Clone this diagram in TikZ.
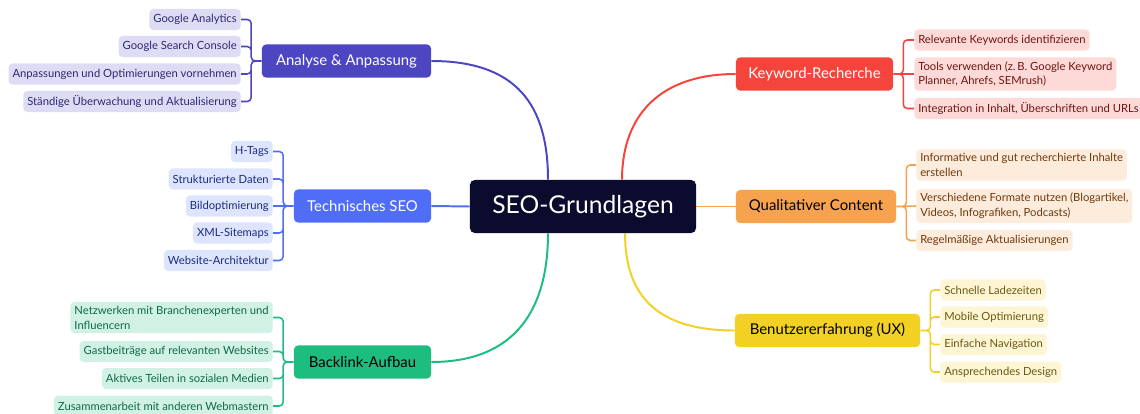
\documentclass[tikz,border=0pt]{standalone}
\usepackage{fontspec}
\setmainfont{Lato}
\usetikzlibrary{backgrounds}
\definecolor{rootc}{HTML}{0B0B2D}
\definecolor{anac}{HTML}{4C46C2}
\definecolor{analt}{HTML}{DEDCF4}
\definecolor{anadk}{HTML}{2C2972}
\definecolor{tecc}{HTML}{4F6DF6}
\definecolor{teclt}{HTML}{DDE4FD}
\definecolor{tecdk}{HTML}{1C2C80}
\definecolor{bacc}{HTML}{1CBD7E}
\definecolor{baclt}{HTML}{D0F1E3}
\definecolor{bacdk}{HTML}{0E6A48}
\definecolor{keyc}{HTML}{F5443B}
\definecolor{keylt}{HTML}{FDDAD8}
\definecolor{keydk}{HTML}{6E1511}
\definecolor{quac}{HTML}{F7A24E}
\definecolor{qualt}{HTML}{FDEBDB}
\definecolor{quadk}{HTML}{6E3A0F}
\definecolor{uxc}{HTML}{F2D024}
\definecolor{uxlt}{HTML}{FDF5D3}
\definecolor{uxdk}{HTML}{6A5A12}

\begin{document}
\begin{tikzpicture}[x=0.025cm, y=-0.025cm,
  root/.style={fill=rootc, text=white, rounded corners=0.12cm, font=\fontsize{17.5}{20}\selectfont, minimum width=5.65cm, minimum height=1.325cm},
  topic/.style={rounded corners=0.1cm, font=\fontsize{10.6}{12}\selectfont, minimum height=0.825cm, inner xsep=0.2cm},
  leaf/.style={rounded corners=0.1cm, font=\fontsize{8}{10.6}\selectfont, minimum height=0.525cm, inner xsep=0.1cm, inner ysep=0.1cm, align=left},
  link/.style={line width=1.4pt},
  brace/.style={line width=1.1pt, rounded corners=0.1cm}]
  \useasboundingbox (0,0) rectangle (1140,414);

  \node[root] (seo) at (583,206.5) {SEO-Grundlagen};

  \node[topic, fill=anac, text=white, minimum width=4.225cm] (ana) at (346.5,61) {Analyse \& Anpassung};
  \node[topic, fill=tecc, text=white, minimum width=3.425cm] (tec) at (362.5,206) {Technisches SEO};
  \node[topic, fill=bacc, minimum width=3.425cm] (bac) at (362.5,362) {Backlink-Aufbau};
  \node[topic, fill=keyc, text=white, minimum width=3.925cm] (key) at (814.5,74) {Keyword-Recherche};
  \node[topic, fill=quac, minimum width=4cm] (qua) at (816,206.5) {Qualitativer Content};
  \node[topic, fill=uxc, minimum width=4.625cm] (ux) at (827.5,330.5) {Benutzererfahrung (UX)};

  \node[leaf, anchor=east, fill=analt, text=anadk] (ana1) at (241,19.5) {Google Analytics};
  \node[leaf, anchor=east, fill=analt, text=anadk] (ana2) at (241,46.5) {Google Search Console};
  \node[leaf, anchor=east, fill=analt, text=anadk] (ana3) at (241,74) {Anpassungen und Optimierungen vornehmen};
  \node[leaf, anchor=east, fill=analt, text=anadk] (ana4) at (241,101.5) {Ständige Überwachung und Aktualisierung};

  \node[leaf, anchor=east, fill=teclt, text=tecdk] (tec1) at (273,151.5) {H-Tags};
  \node[leaf, anchor=east, fill=teclt, text=tecdk] (tec2) at (273,179) {Strukturierte Daten};
  \node[leaf, anchor=east, fill=teclt, text=tecdk] (tec3) at (273,206) {Bildoptimierung};
  \node[leaf, anchor=east, fill=teclt, text=tecdk] (tec4) at (273,233) {XML-Sitemaps};
  \node[leaf, anchor=east, fill=teclt, text=tecdk] (tec5) at (273,260.5) {Website-Architektur};

  \node[leaf, anchor=east, fill=baclt, text=bacdk] (bac1) at (273,317.5) {Netzwerken mit Branchenexperten und\\Influencern};
  \node[leaf, anchor=east, fill=baclt, text=bacdk] (bac2) at (273,351.5) {Gastbeiträge auf relevanten Websites};
  \node[leaf, anchor=east, fill=baclt, text=bacdk] (bac3) at (273,378.5) {Aktives Teilen in sozialen Medien};
  \node[leaf, anchor=east, fill=baclt, text=bacdk] (bac4) at (273,406) {Zusammenarbeit mit anderen Webmastern};

  \node[leaf, anchor=west, fill=keylt, text=keydk] (key1) at (914,40) {Relevante Keywords identifizieren};
  \node[leaf, anchor=west, fill=keylt, text=keydk] (key2) at (914,74) {Tools verwenden (z.\,B. Google Keyword\\Planner, Ahrefs, SEMrush)};
  \node[leaf, anchor=west, fill=keylt, text=keydk] (key3) at (914,108.5) {Integration in Inhalt, Überschriften und URLs};

  \node[leaf, anchor=west, fill=qualt, text=quadk] (qua1) at (916,165) {Informative und gut recherchierte Inhalte\\erstellen};
  \node[leaf, anchor=west, fill=qualt, text=quadk] (qua2) at (916,206) {Verschiedene Formate nutzen (Blogartikel,\\Videos, Infografiken, Podcasts)};
  \node[leaf, anchor=west, fill=qualt, text=quadk] (qua3) at (916,240.5) {Regelmäßige Aktualisierungen};

  \node[leaf, anchor=west, fill=uxlt, text=uxdk] (ux1) at (940,290) {Schnelle Ladezeiten};
  \node[leaf, anchor=west, fill=uxlt, text=uxdk] (ux2) at (940,317) {Mobile Optimierung};
  \node[leaf, anchor=west, fill=uxlt, text=uxdk] (ux3) at (940,344.5) {Einfache Navigation};
  \node[leaf, anchor=west, fill=uxlt, text=uxdk] (ux4) at (940,372) {Ansprechendes Design};

  \begin{scope}[on background layer]
  \draw[link, anac] ([xshift=-0.875cm]seo.north) .. controls +(0,-75) and +(85,0) .. (ana.east);
  \draw[link, tecc] (seo.west) -- (tec.east);
  \draw[link, bacc] ([xshift=-0.875cm]seo.south) .. controls +(0,75) and +(85,0) .. (bac.east);
  \draw[link, keyc] ([xshift=0.975cm]seo.north) .. controls +(0,-65) and +(-75,0) .. (key.west);
  \draw[link, quac] (seo.east) -- (qua.west);
  \draw[link, uxc] ([xshift=1.05cm]seo.south) .. controls +(0,65) and +(-75,0) .. (ux.west);

  \draw[brace, anac] (ana.west) -- ++(-10.5,0) |- (ana1.east) (ana.west) -- ++(-10.5,0) |- (ana2.east)
    (ana.west) -- ++(-10.5,0) |- (ana3.east) (ana.west) -- ++(-10.5,0) |- (ana4.east);
  \draw[brace, tecc] (tec.west) -- ++(-10.5,0) |- (tec1.east) (tec.west) -- ++(-10.5,0) |- (tec2.east)
    (tec.west) -- (tec3.east) (tec.west) -- ++(-10.5,0) |- (tec4.east) (tec.west) -- ++(-10.5,0) |- (tec5.east);
  \draw[brace, bacc] (bac.west) -- ++(-10.5,0) |- (bac1.east) (bac.west) -- ++(-10.5,0) |- (bac2.east)
    (bac.west) -- ++(-10.5,0) |- (bac3.east) (bac.west) -- ++(-10.5,0) |- (bac4.east);
  \draw[brace, keyc] (key.east) -- ++(10,0) |- (key1.west) (key.east) -- (key2.west)
    (key.east) -- ++(10,0) |- (key3.west);
  \draw[brace, quac] (qua.east) -- ++(10,0) |- (qua1.west) (qua.east) -- (qua2.west)
    (qua.east) -- ++(10,0) |- (qua3.west);
  \draw[brace, uxc] (ux.east) -- ++(10,0) |- (ux1.west) (ux.east) -- ++(10,0) |- (ux2.west)
    (ux.east) -- ++(10,0) |- (ux3.west) (ux.east) -- ++(10,0) |- (ux4.west);
  \end{scope}
\end{tikzpicture}
\end{document}
